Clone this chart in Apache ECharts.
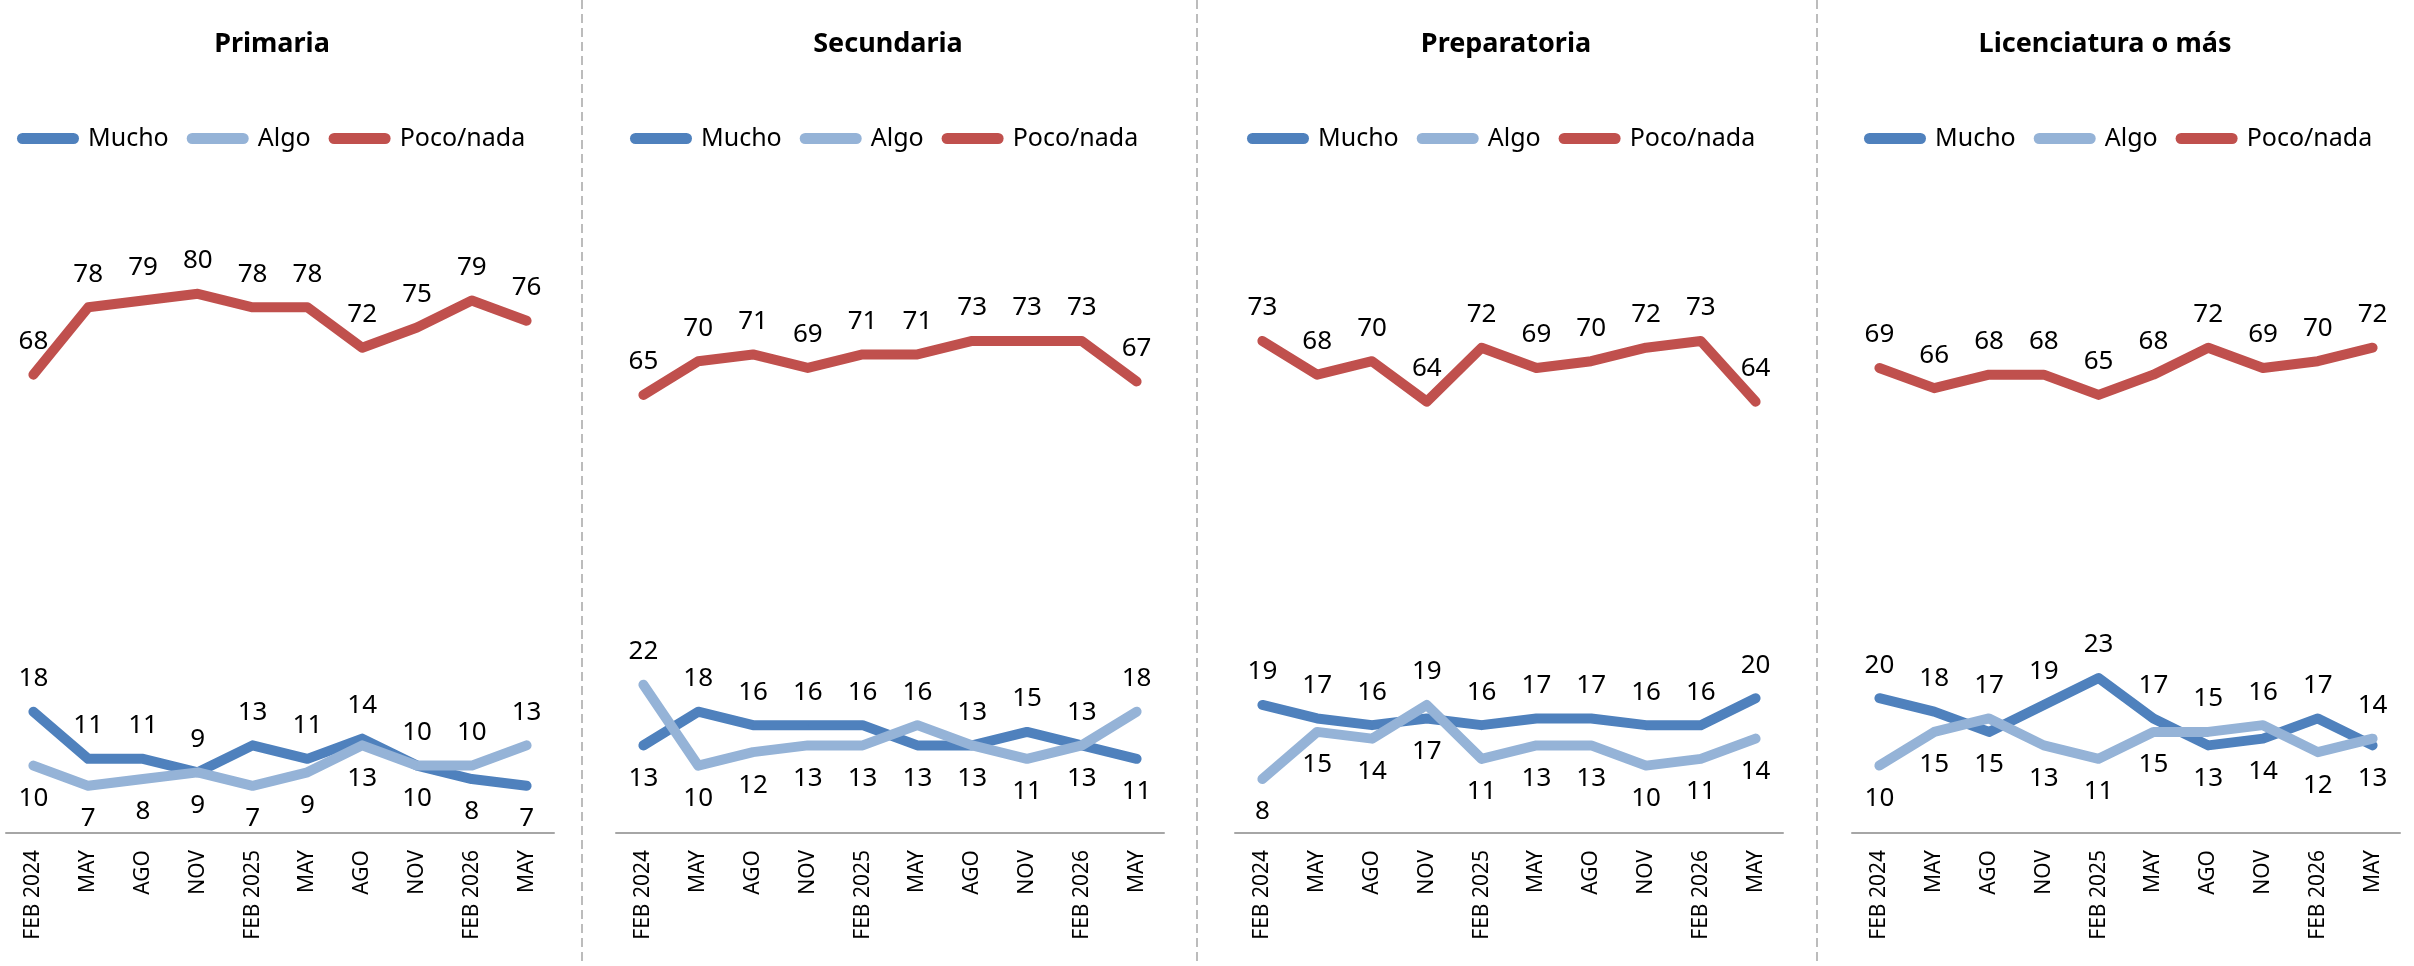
<!DOCTYPE html>
<html>
<head>
<meta charset="utf-8">
<script src="https://cdn.jsdelivr.net/npm/echarts@6/dist/echarts.min.js"></script>
<style>
  html, body { margin: 0; padding: 0; background: #fff; }
  #chart { width: 2414px; height: 966px; }
</style>
</head>
<body>
<div id="chart"></div>
<script>
// categories
const months = ['FEB 2024', 'MAY', 'AGO', 'NOV', 'FEB 2025', 'MAY', 'AGO', 'NOV', 'FEB 2026', 'MAY']
const panelTitles = ['Primaria', 'Secundaria', 'Preparatoria', 'Licenciatura o más']
const seriesNames = ['Mucho', 'Algo', 'Poco/nada']

// values per panel
const primariaMucho = [18, 11, 11, 9, 13, 11, 14, 10, 8, 7]
const primariaAlgo = [10, 7, 8, 9, 7, 9, 13, 10, 10, 13]
const primariaPoco = [68, 78, 79, 80, 78, 78, 72, 75, 79, 76]

const secundariaMucho = [13, 18, 16, 16, 16, 13, 13, 15, 13, 11]
const secundariaAlgo = [22, 10, 12, 13, 13, 16, 13, 11, 13, 18]
const secundariaPoco = [65, 70, 71, 69, 71, 71, 73, 73, 73, 67]

const preparatoriaMucho = [19, 17, 16, 17, 16, 17, 17, 16, 16, 20]
const preparatoriaAlgo = [8, 15, 14, 19, 11, 13, 13, 10, 11, 14]
const preparatoriaPoco = [73, 68, 70, 64, 72, 69, 70, 72, 73, 64]

const licenciaturaMucho = [20, 18, 15, 19, 23, 17, 13, 14, 17, 13]
const licenciaturaAlgo = [10, 15, 17, 13, 11, 15, 15, 16, 12, 14]
const licenciaturaPoco = [69, 66, 68, 68, 65, 68, 72, 69, 70, 72]

const panels = [
  [primariaMucho, primariaAlgo, primariaPoco],
  [secundariaMucho, secundariaAlgo, secundariaPoco],
  [preparatoriaMucho, preparatoriaAlgo, preparatoriaPoco],
  [licenciaturaMucho, licenciaturaAlgo, licenciaturaPoco],
]

const colors = ['#4f81bd', '#95b3d7', '#c0504d']

// layout (px)
const gridLeft = [6, 616, 1235, 1852]
const gridWidth = 548
const titleX = [272, 888, 1506, 2105]
const legendX = [17, 630, 1247, 1864]
const dividerX = [582, 1197, 1817]

const capsule = 'path://M5.5 0H56.5A5.5 5.5 0 0 1 56.5 11H5.5A5.5 5.5 0 0 1 5.5 0Z'

const chart = echarts.init(document.getElementById('chart'))

const grid = []
const xAxis = []
const yAxis = []
const title = []
const legend = []
const series = []

panels.forEach((vals, p) => {
  grid.push({ left: gridLeft[p], width: gridWidth, top: 159, height: 674 })
  xAxis.push({
    type: 'category',
    gridIndex: p,
    data: months,
    boundaryGap: true,
    axisLine: { lineStyle: { color: '#a6a6a6', width: 2 } },
    axisTick: { show: false },
    axisLabel: {
      rotate: 90,
      interval: 0,
      margin: 17,
      color: '#000',
      fontSize: 21,
      fontFamily: 'Noto Sans',
    },
    splitLine: { show: false },
  })
  yAxis.push({ type: 'value', gridIndex: p, min: 0, max: 100, show: false, splitLine: { show: false } })
  title.push({
    text: panelTitles[p],
    left: titleX[p],
    textAlign: 'center',
    top: 31,
    padding: 0,
    textStyle: { fontSize: 27, fontWeight: 'bold', color: '#000', fontFamily: 'Noto Sans' },
  })
  legend.push({
    left: legendX[p],
    top: 126,
    padding: 0,
    itemWidth: 62,
    itemHeight: 11,
    itemGap: 18,
    icon: capsule,
    itemStyle: { borderWidth: 0 },
    data: seriesNames.map((n, i) => ({ name: n + '\u200b'.repeat(p), itemStyle: { color: colors[i] } })),
    textStyle: { fontSize: 25, color: '#000', fontFamily: 'Noto Sans', padding: [0, 0, 0, 4] },
    selectedMode: false,
  })

  const mucho = vals[0]
  const algo = vals[1]
  vals.forEach((arr, s) => {
    series.push({
      name: seriesNames[s] + '\u200b'.repeat(p),
      type: 'line',
      xAxisIndex: p,
      yAxisIndex: p,
      symbol: 'circle',
      symbolSize: 2,
      showSymbol: true,
      itemStyle: { color: colors[s], borderWidth: 0 },
      color: colors[s],
      lineStyle: { width: 10, color: colors[s], cap: 'round', join: 'round' },
      label: {
        show: true,
        fontSize: 26,
        lineHeight: 26,
        color: '#000',
        fontFamily: 'Noto Sans',
        distance: 19,
      },
      labelLayout: { hideOverlap: false },
      data: arr.map((v, i) => {
        let pos = 'top'
        if (s === 0) pos = mucho[i] >= algo[i] ? 'top' : 'bottom'
        if (s === 1) pos = algo[i] > mucho[i] ? 'top' : 'bottom'
        return { value: v, label: { show: true, position: pos } }
      }),
      z: 2 + s,
      animation: false,
    })
  })
})

const graphic = dividerX.map((x) => ({
  type: 'line',
  shape: { x1: x, y1: 0, x2: x, y2: 966 },
  style: { stroke: '#a6a6a6', lineWidth: 1.5, lineDash: [9, 5] },
}))

chart.setOption({
  backgroundColor: '#fff',
  animation: false,
  title,
  legend,
  grid,
  xAxis,
  yAxis,
  series,
  graphic,
})
</script>
</body>
</html>
